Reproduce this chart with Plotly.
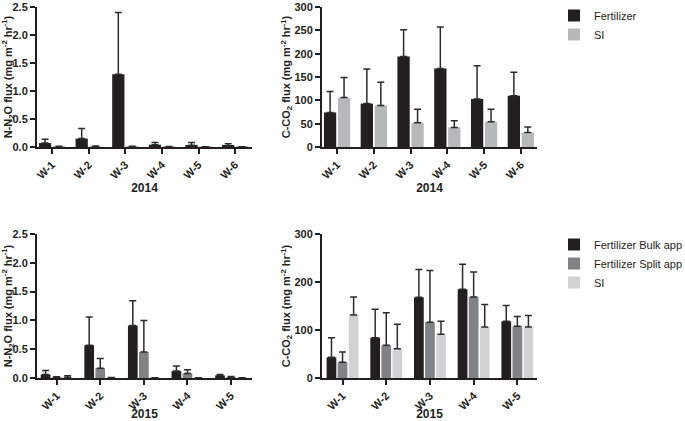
import plotly.graph_objects as go

# ---- data ----
weeks_2014 = ["W-1", "W-2", "W-3", "W-4", "W-5", "W-6"]
weeks_2015 = ["W-1", "W-2", "W-3", "W-4", "W-5"]

n2o_2014_fert = [0.07, 0.15, 1.30, 0.04, 0.03, 0.02]
n2o_2014_fert_err = [0.07, 0.18, 1.10, 0.04, 0.05, 0.04]
n2o_2014_si = [0.01, 0.015, 0.01, 0.005, 0.004, 0.004]
n2o_2014_si_err = [0.003, 0.004, 0.003, 0.002, 0.002, 0.002]

co2_2014_fert = [74, 93, 194, 168, 103, 110]
co2_2014_fert_err = [45, 74, 57, 89, 71, 50]
co2_2014_si = [106, 89, 52, 42, 54, 31]
co2_2014_si_err = [43, 50, 29, 14, 27, 12]

n2o_2015_bulk = [0.06, 0.57, 0.91, 0.12, 0.045]
n2o_2015_bulk_err = [0.07, 0.49, 0.43, 0.09, 0.015]
n2o_2015_split = [0.012, 0.17, 0.45, 0.08, 0.012]
n2o_2015_split_err = [0.008, 0.17, 0.55, 0.065, 0.013]
n2o_2015_si = [0.01, 0.005, 0.002, 0.002, 0.002]
n2o_2015_si_err = [0.03, 0.003, 0.001, 0.001, 0.001]

co2_2015_bulk = [43, 84, 168, 185, 118]
co2_2015_bulk_err = [41, 59, 58, 52, 33]
co2_2015_split = [33, 68, 116, 169, 108]
co2_2015_split_err = [21, 68, 108, 52, 20]
co2_2015_si = [131, 61, 91, 106, 106]
co2_2015_si_err = [38, 51, 27, 47, 24]

# ---- styles ----
BLACK = "#231f20"
SI14 = "#b7b8ba"
SPLIT = "#808285"
SI15 = "#d1d2d4"
ERR = "#2b2b2b"
FONT = "Liberation Sans, Arial, sans-serif"

W, H = 685, 421


def px_x(a, b):
    return [a / W, b / W]


def px_y(top, bottom):
    return [1 - bottom / H, 1 - top / H]


fig = go.Figure()


def add_bar(x, y, err, color, name, xa, ya, legend, show):
    fig.add_trace(go.Bar(
        x=x, y=y, name=name, marker=dict(color=color, line=dict(width=0)),
        error_y=dict(type="data", array=err, arrayminus=[0] * len(err), symmetric=False,
                     color=ERR, thickness=1.5, width=3.5),
        xaxis=xa, yaxis=ya, legend=legend, showlegend=show,
    ))


add_bar(weeks_2014, n2o_2014_fert, n2o_2014_fert_err, BLACK, "Fertilizer", "x", "y", "legend", True)
add_bar(weeks_2014, n2o_2014_si, n2o_2014_si_err, SI14, "SI", "x", "y", "legend", True)
add_bar(weeks_2014, co2_2014_fert, co2_2014_fert_err, BLACK, "Fertilizer", "x2", "y2", "legend", False)
add_bar(weeks_2014, co2_2014_si, co2_2014_si_err, SI14, "SI", "x2", "y2", "legend", False)

add_bar(weeks_2015, n2o_2015_bulk, n2o_2015_bulk_err, BLACK, "Fertilizer Bulk app", "x3", "y3", "legend2", True)
add_bar(weeks_2015, n2o_2015_split, n2o_2015_split_err, SPLIT, "Fertilizer Split app", "x3", "y3", "legend2", True)
add_bar(weeks_2015, n2o_2015_si, n2o_2015_si_err, SI15, "SI", "x3", "y3", "legend2", True)
add_bar(weeks_2015, co2_2015_bulk, co2_2015_bulk_err, BLACK, "Fertilizer Bulk app", "x4", "y4", "legend2", False)
add_bar(weeks_2015, co2_2015_split, co2_2015_split_err, SPLIT, "Fertilizer Split app", "x4", "y4", "legend2", False)
add_bar(weeks_2015, co2_2015_si, co2_2015_si_err, SI15, "SI", "x4", "y4", "legend2", False)

axis_common = dict(showline=True, linewidth=2, linecolor=BLACK, ticks="outside", ticklen=5,
                   tickwidth=1.5, tickcolor=BLACK, showgrid=False, zeroline=False,
                   automargin=False, ticklabeloverflow="allow",
                   tickfont=dict(family=FONT, size=11, color=BLACK, weight="bold"))

n2o_title = "N-N<sub>2</sub>O flux (mg m<sup>-2</sup> hr<sup>-1</sup>)"
co2_title = "C-CO<sub>2</sub> flux (mg m<sup>-2</sup> hr<sup>-1</sup>)"
title_font = dict(family=FONT, size=11, color=BLACK, weight="bold")
xtitle_font = dict(family=FONT, size=12, color=BLACK, weight="bold")


def xaxis(domain, anchor, rng, title):
    return dict(axis_common, domain=domain, anchor=anchor, range=rng, tickangle=-45,
                type="category", title=dict(text=title, font=xtitle_font, standoff=0))


def yaxis(domain, anchor, rng, dtick, fmt, title, standoff):
    return dict(axis_common, domain=domain, anchor=anchor, range=rng, dtick=dtick,
                tickformat=fmt, title=dict(text=title, font=title_font, standoff=standoff))


legend_common = dict(xanchor="left", yanchor="top",
                     font=dict(family=FONT, size=11, color=BLACK), itemwidth=30,
                     bgcolor="rgba(0,0,0,0)", traceorder="normal")

fig.update_layout(
    width=W, height=H, autosize=False,
    margin=dict(l=0, r=0, t=0, b=0, autoexpand=False),
    paper_bgcolor="white", plot_bgcolor="white",
    barmode="group", bargap=0.24, bargroupgap=0.12,
    font=dict(family=FONT, color=BLACK),
    xaxis=xaxis(px_x(37, 252), "y", [-0.41, 5.46], "2014"),
    yaxis=yaxis(px_y(7, 147), "x", [0, 2.5], 0.5, ".1f", n2o_title, 3),
    xaxis2=xaxis(px_x(322, 537), "y2", [-0.41, 5.44], "2014"),
    yaxis2=yaxis(px_y(7, 147), "x2", [0, 300], 50, "d", co2_title, 0),
    xaxis3=xaxis(px_x(37, 252), "y3", [-0.45, 4.48], "2015"),
    yaxis3=yaxis(px_y(234, 378), "x3", [0, 2.5], 0.5, ".1f", n2o_title, 3),
    xaxis4=xaxis(px_x(322, 537), "y4", [-0.47, 4.45], "2015"),
    yaxis4=yaxis(px_y(234, 378), "x4", [0, 300], 100, "d", co2_title, 0),
    legend=dict(legend_common, x=554 / W, y=1 - 1 / H),
    legend2=dict(legend_common, x=554 / W, y=1 - 230 / H),
)

fig.write_html(
    "out.html",
    config={"displayModeBar": False},
    post_script="document.body.style.margin='0';document.body.style.overflow='hidden';",
)
